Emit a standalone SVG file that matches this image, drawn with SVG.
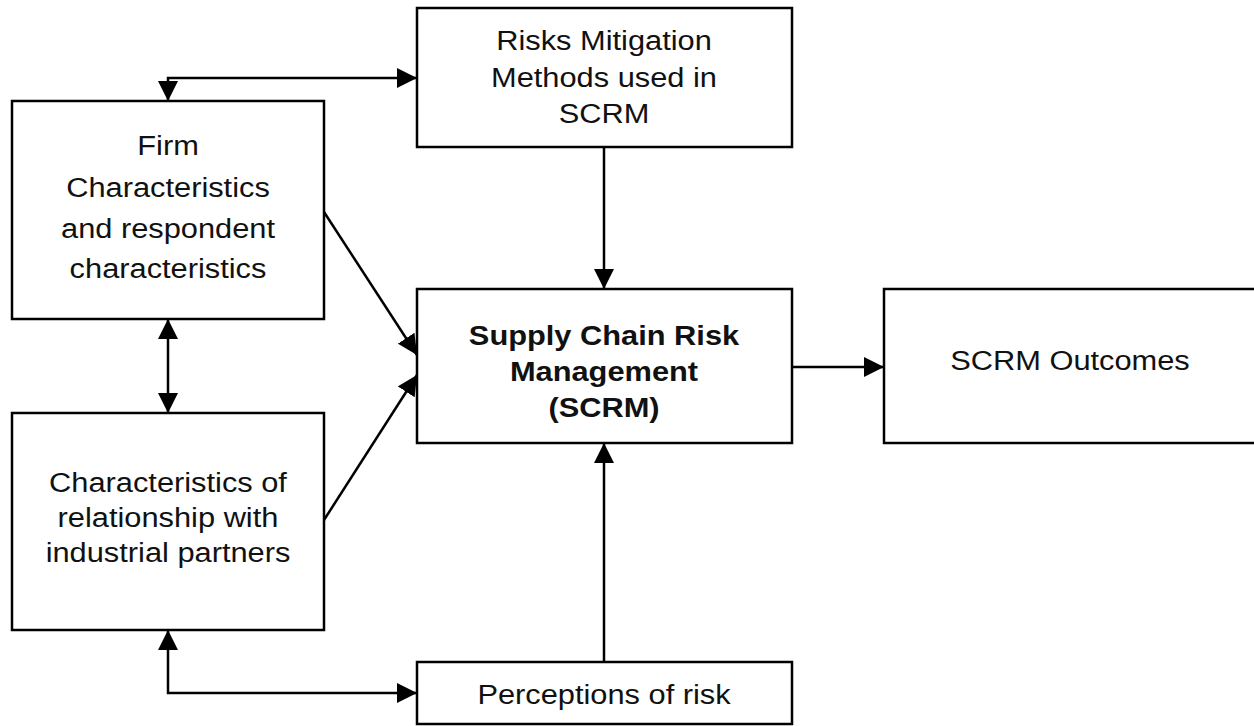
<svg xmlns="http://www.w3.org/2000/svg" width="1254" height="726" viewBox="0 0 1254 726">
<style>
.box{fill:#fff;stroke:#000;stroke-width:2.5}
.t{font-family:"Liberation Sans",Arial,sans-serif;font-size:28px;fill:#111;text-anchor:middle}
.b{font-weight:bold}
.c{fill:none;stroke:#000;stroke-width:2.5}
</style>
<defs>
<marker id="ah" markerUnits="userSpaceOnUse" markerWidth="20" markerHeight="20" refX="20" refY="10" orient="auto-start-reverse" viewBox="0 0 20 20">
<path d="M0,0 L20,10 L0,20 Z" fill="#000"/>
</marker>
</defs>
<rect width="1254" height="726" fill="#fff"/>
<g id="connectors">
<path class="c" d="M168,101 L168,78 L417,78" marker-start="url(#ah)" marker-end="url(#ah)"/>
<path class="c" d="M604,147 L604,289" marker-end="url(#ah)"/>
<path class="c" d="M168,319 L168,413" marker-start="url(#ah)" marker-end="url(#ah)"/>
<path class="c" d="M324,212 L417,355" marker-end="url(#ah)"/>
<path class="c" d="M324,520 L417,375" marker-end="url(#ah)"/>
<path class="c" d="M792,367 L884,367" marker-end="url(#ah)"/>
<path class="c" d="M604,662 L604,443" marker-end="url(#ah)"/>
<path class="c" d="M168,630 L168,693 L417,693" marker-start="url(#ah)" marker-end="url(#ah)"/>
</g>
<g id="risks">
<rect class="box" x="417" y="8" width="375" height="139"/>
<g transform="translate(604 0) scale(1.1 1)">
<text class="t" x="0" y="50">Risks Mitigation</text>
<text class="t" x="0" y="87">Methods used in</text>
<text class="t" x="0" y="123">SCRM</text>
</g>
</g>
<g id="firm">
<rect class="box" x="12" y="101" width="312" height="218"/>
<g transform="translate(168 0) scale(1.1 1)">
<text class="t" x="0" y="155">Firm</text>
<text class="t" x="0" y="197">Characteristics</text>
<text class="t" x="0" y="238">and respondent</text>
<text class="t" x="0" y="278">characteristics</text>
</g>
</g>
<g id="scrm">
<rect class="box" x="417" y="289" width="375" height="154"/>
<g transform="translate(604 0) scale(1.1 1)">
<text class="t b" x="0" y="345">Supply Chain Risk</text>
<text class="t b" x="0" y="381">Management</text>
<text class="t b" x="0" y="417">(SCRM)</text>
</g>
</g>
<g id="outcomes">
<rect class="box" x="884" y="289" width="374" height="154"/>
<g transform="translate(1070 0) scale(1.1 1)">
<text class="t" x="0" y="370">SCRM Outcomes</text>
</g>
</g>
<g id="relationship">
<rect class="box" x="12" y="413" width="312" height="217"/>
<g transform="translate(168 0) scale(1.1 1)">
<text class="t" x="0" y="492">Characteristics of</text>
<text class="t" x="0" y="527">relationship with</text>
<text class="t" x="0" y="562">industrial partners</text>
</g>
</g>
<g id="perceptions">
<rect class="box" x="417" y="662" width="375" height="62"/>
<g transform="translate(604 0) scale(1.1 1)">
<text class="t" x="0" y="704">Perceptions of risk</text>
</g>
</g>
</svg>
